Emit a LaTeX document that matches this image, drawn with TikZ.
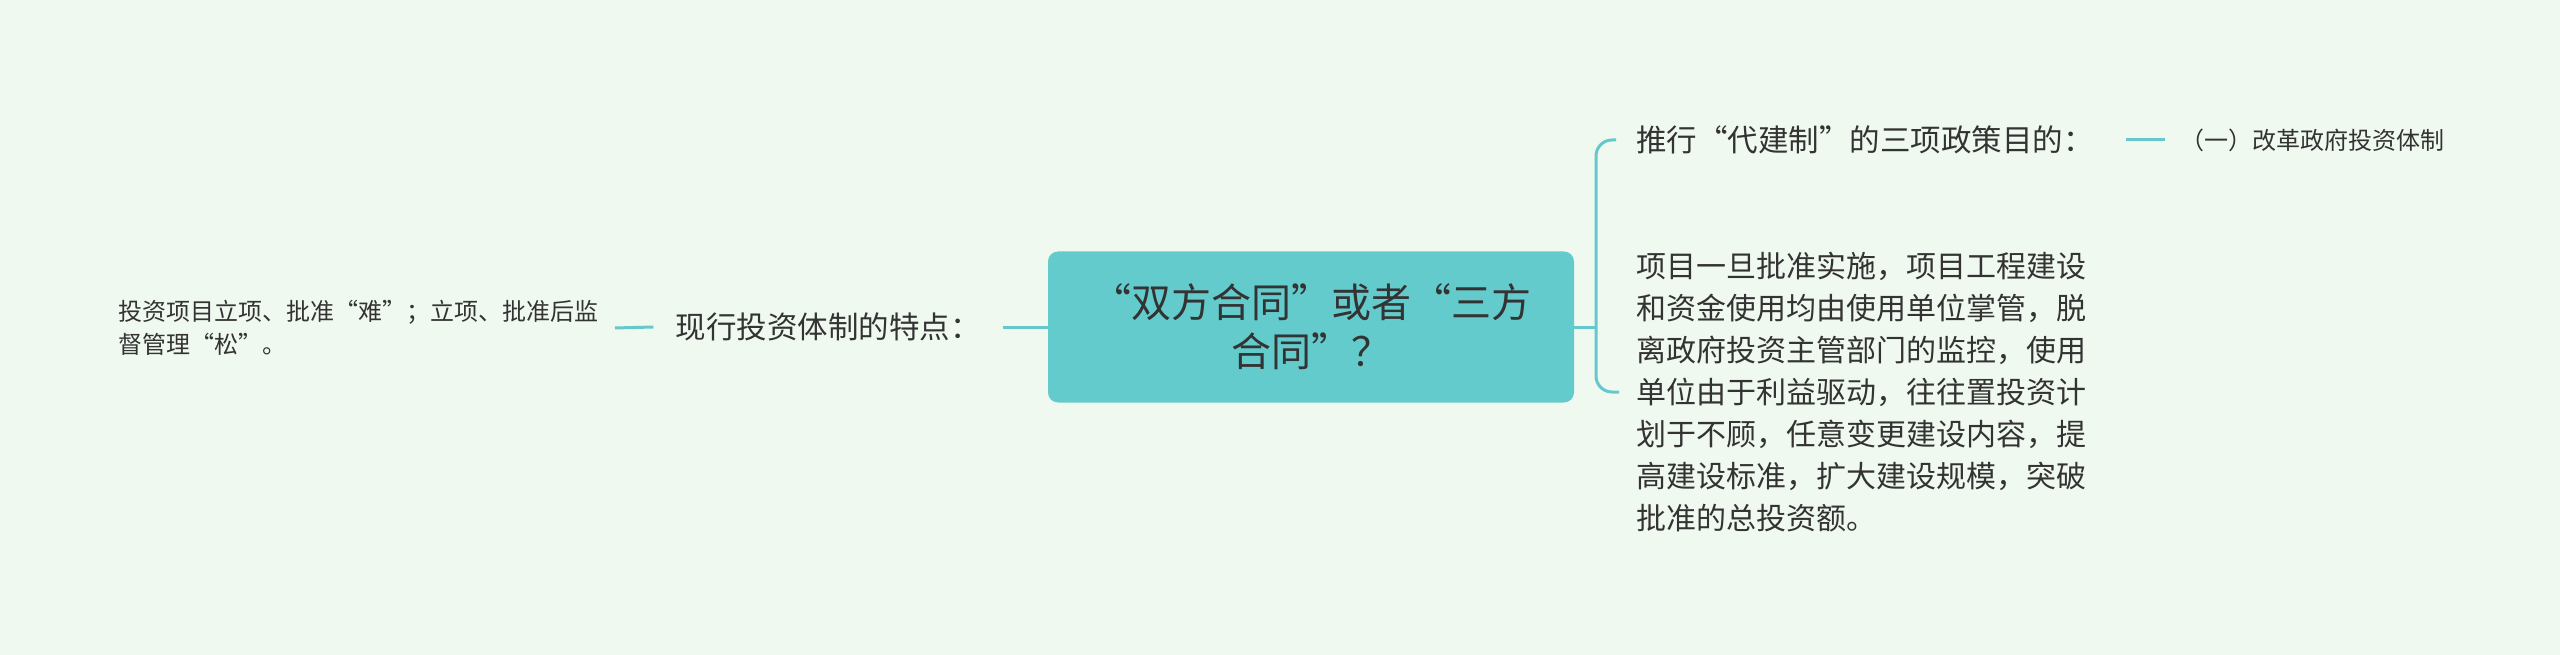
\documentclass[tikz,border=0pt]{standalone}
\usepackage{fontspec}
\setmainfont{Noto Sans CJK SC}
\definecolor{mmbg}{HTML}{F0F9F0}
\definecolor{mmbox}{HTML}{63CBCC}
\definecolor{mmline}{HTML}{66C8CC}
\definecolor{mmtxt}{HTML}{333333}
\begin{document}
\begin{tikzpicture}[x=1pt,y=-1pt,
  conn/.style={draw=mmline,line width=3pt},
  rootbox/.style={fill=mmbox,rounded corners=10pt,minimum width=526pt,minimum height=151pt,
     align=center,text=mmtxt,font=\fontsize{40}{49}\selectfont,inner sep=0pt},
  lvlone/.style={text=mmtxt,font=\fontsize{30}{42}\selectfont,align=left,inner xsep=20pt,inner ysep=0pt},
  lvltwo/.style={text=mmtxt,font=\fontsize{24}{33}\selectfont,align=left,inner xsep=16pt,inner ysep=0pt}]
\fill[mmbg] (0,0) rectangle (2560,655);
\useasboundingbox (0,0) rectangle (2560,655);

\node[rootbox] (R) at (1311,327) {“双方合同”或者“三方\\合同”？};

\node[lvlone,inner xsep=22pt,font=\fontsize{30.5}{42}\selectfont] (L1) at (828,327) {现行投资体制的特点：};
\node[lvltwo,anchor=east] (L2) at (615,328) {投资项目立项、批准“难”；立项、批准后监\\督管理“松”。};

\coordinate (T) at (1596,327);
\node[lvlone,anchor=west,font=\fontsize{30.5}{42}\selectfont] (U) at (1616,140) {推行“代建制”的三项政策目的：};
\node[lvltwo,anchor=west,inner xsep=15pt] (S) at (2165,140) {（一）改革政府投资体制};
\node[lvlone,anchor=west,inner xsep=17pt] (D) at (1619,392) {项目一旦批准实施，项目工程建设\\和资金使用均由使用单位掌管，脱\\离政府投资主管部门的监控，使用\\单位由于利益驱动，往往置投资计\\划于不顾，任意变更建设内容，提\\高建设标准，扩大建设规模，突破\\批准的总投资额。};

\draw[conn] (R.west) -- (L1.east);
\draw[conn] (L1.west) -- (L2.east);
\draw[conn] (R.east) -- (T);
\draw[conn,rounded corners=16pt] (U.west) -| (T) |- (D.west);
\draw[conn] ([xshift=12pt]U.east) -- (S.west);
\end{tikzpicture}
\end{document}
